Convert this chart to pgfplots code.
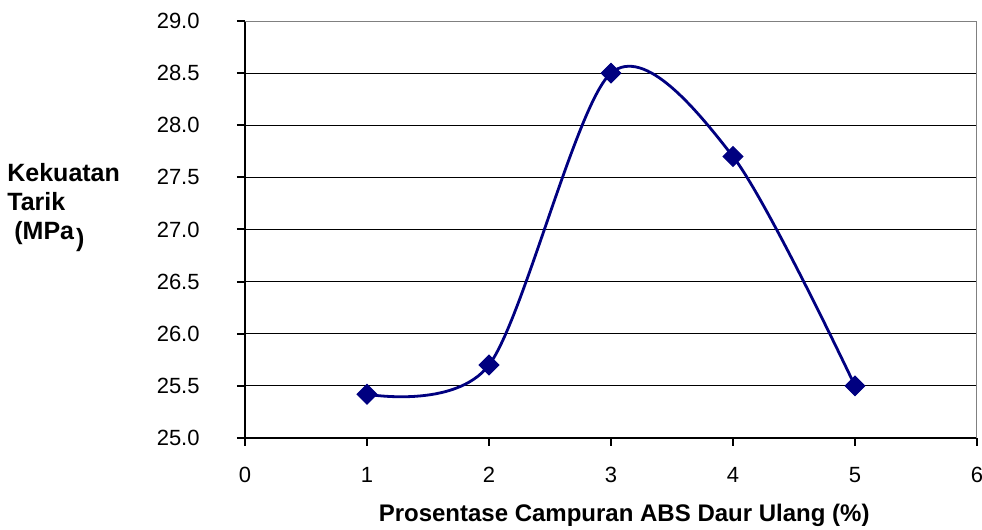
\documentclass[border=0pt]{standalone}
\usepackage{pgfplots}
\pgfplotsset{compat=1.18}
\usepackage{fontspec}
\setmainfont{Liberation Sans}
\definecolor{navyline}{HTML}{000080}
\definecolor{framegray}{HTML}{808080}

\begin{document}
\begin{tikzpicture}
\useasboundingbox (0,0) rectangle (491pt,265pt);
\begin{axis}[
    at={(122.5pt,46pt)}, anchor=south west,
    scale only axis,
    width=366pt, height=208.5pt,
    xmin=0, xmax=6, ymin=25, ymax=29,
    xtick={0,1,2,3,4,5,6},
    ytick={25,25.5,26,26.5,27,27.5,28,28.5,29},
    axis lines*=left,
    axis line style={line width=1pt, -},
    tick align=outside,
    major tick length=4pt,
    tick style={black, line width=1pt},
    ymajorgrids,
    grid style={black, line width=0.5pt},
    /pgf/number format/assume math mode=true,
    ticklabel style={font=\fontsize{11}{13}\selectfont},
    yticklabel style={/pgf/number format/.cd, fixed, fixed zerofill, precision=1,
      /tikz/.cd, anchor=east, inner sep=0pt, xshift=-18.5pt},
    xticklabel style={anchor=north, inner sep=0pt, yshift=-10.5pt},
    xlabel={Prosentase Campuran ABS Daur Ulang (\%)},
    xlabel style={font=\fontsize{12}{14}\selectfont\bfseries,
      at={(axis description cs:0.518,0)}, anchor=center, yshift=-38.5pt},
    ylabel={Kekuatan\\Tarik\\\hspace{3.5pt}(MPa\hspace{1pt}\raisebox{-3.5pt}{)}},
    ylabel style={rotate=-90, align=left, inner sep=0pt,
      font=\fontsize{12.5}{14.5}\selectfont\bfseries,
      at={(axis description cs:0,0.5635)}, anchor=west,
      xshift=-119pt, yshift=-2.5pt},
  ]

  \addplot[navyline, line width=1.4pt, smooth, tension=0.5,
    mark=square*, mark size=3.5pt,
    mark options={rotate=45, solid, fill=navyline, line width=0.5pt}]
    coordinates {
      (1, 25.42)
      (2, 25.70)
      (3, 28.50)
      (4, 27.70)
      (5, 25.50)
    };

  % plot area frame, top and right side
  \draw[framegray, line width=0.75pt]
    (rel axis cs:0,1) -- (rel axis cs:1,1) -- (rel axis cs:1,0);
\end{axis}
\end{tikzpicture}
\end{document}
